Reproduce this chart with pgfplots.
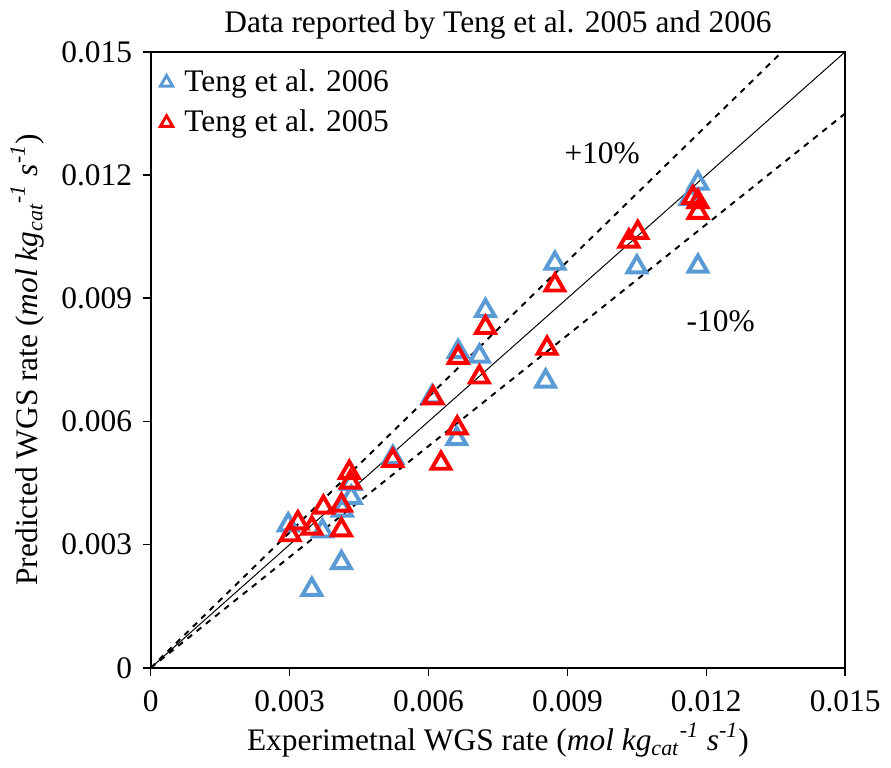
\documentclass[border=0pt]{standalone}
\usepackage{pgfplots}
\pgfplotsset{compat=1.18}
\usepackage{fontspec}
\setmainfont{Liberation Serif}
\definecolor{tblue}{RGB}{91,155,213}
\definecolor{tred}{RGB}{255,0,0}
\newcommand{\unitlab}{(\textit{mol kg}\textsubscript{\textit{cat}}\textsuperscript{\textit{-1}} \textit{s}\textsuperscript{\textit{-1}})}
\newcommand{\fs}{\fontsize{16pt}{19pt}\selectfont}
\begin{document}
\fs
\begin{tikzpicture}
\begin{axis}[
  width=354pt, height=314pt, scale only axis,
  xmin=0, xmax=0.015, ymin=0, ymax=0.015,
  xtick={0,0.003,0.006,0.009,0.012,0.015},
  ytick={0,0.003,0.006,0.009,0.012,0.015},
  xticklabels={0,0.003,0.006,0.009,0.012,0.015},
  yticklabels={0,0.003,0.006,0.009,0.012,0.015},
  scaled ticks=false,
  xtick pos=bottom, ytick pos=left,
  tick align=outside, major tick length=4pt,
  tick style={black, line width=0.8pt},
  axis line style={black, line width=1pt},
  ticklabel style={font=\fs},
  xticklabel style={yshift=-2pt},
  title={Data reported by Teng et al. 2005 and 2006},
  title style={font=\fs, yshift=-5pt},
  xlabel={Experimetnal WGS rate \unitlab},
  ylabel={Predicted WGS rate \unitlab},
  label style={font=\fs},
  xlabel style={yshift=5pt},
  ylabel style={yshift=-2pt},
  legend style={at={(0.005,0.985)}, anchor=north west, draw=none, fill=none,
    font=\fs, row sep=3pt},
  legend cell align=left,
  legend image code/.code={\draw[#1, mark size=3.6pt, line width=1.5pt] plot coordinates {(0.16cm,0cm)};},
]
\addplot[only marks, mark=triangle, mark size=5.5pt, tblue, line width=2pt, mark options={solid}] coordinates {
(0.00297,0.00348) (0.00348,0.00191) (0.00371,0.00333) (0.00412,0.00256)
(0.00414,0.00384) (0.00433,0.00415) (0.00433,0.00449) (0.00523,0.00512)
(0.00608,0.0066) (0.00661,0.00558) (0.00664,0.0077) (0.0071,0.00759)
(0.00723,0.0087) (0.00853,0.00698) (0.00873,0.00985) (0.0105,0.00976)
(0.01182,0.00978) (0.01182,0.0118) (0.01165,0.01143)
};
\addlegendentry{\hspace{4pt}Teng et al. 2006}
\addplot[only marks, mark=triangle, mark size=5.5pt, tred, line width=2pt, mark options={solid}] coordinates {
(0.00301,0.00324) (0.00318,0.00353) (0.00348,0.0034) (0.00373,0.00391)
(0.00412,0.00396) (0.00412,0.00336) (0.00429,0.00476) (0.00431,0.00452)
(0.00523,0.00505) (0.00627,0.00498) (0.0061,0.00657) (0.00662,0.00584)
(0.00664,0.00756) (0.0071,0.00708) (0.00723,0.00829) (0.00856,0.00778)
(0.00873,0.00932) (0.01033,0.01039) (0.01052,0.0106) (0.01171,0.01145)
(0.01182,0.01135) (0.01182,0.01109)
};
\addlegendentry{\hspace{4pt}Teng et al. 2005}
\addplot[black, line width=0.5pt, forget plot] coordinates {(0,0) (0.015,0.015)};
\addplot[black, dashed, line width=1pt, forget plot] coordinates {(0,0) (0.0136364,0.015)};
\addplot[black, dashed, line width=1pt, forget plot] coordinates {(0,0) (0.015,0.0135)};
\node[font=\fs] at (axis cs:0.00975,0.01254) {+10\%};
\node[font=\fs] at (axis cs:0.01231,0.00843) {-10\%};
\end{axis}
\end{tikzpicture}
\end{document}
